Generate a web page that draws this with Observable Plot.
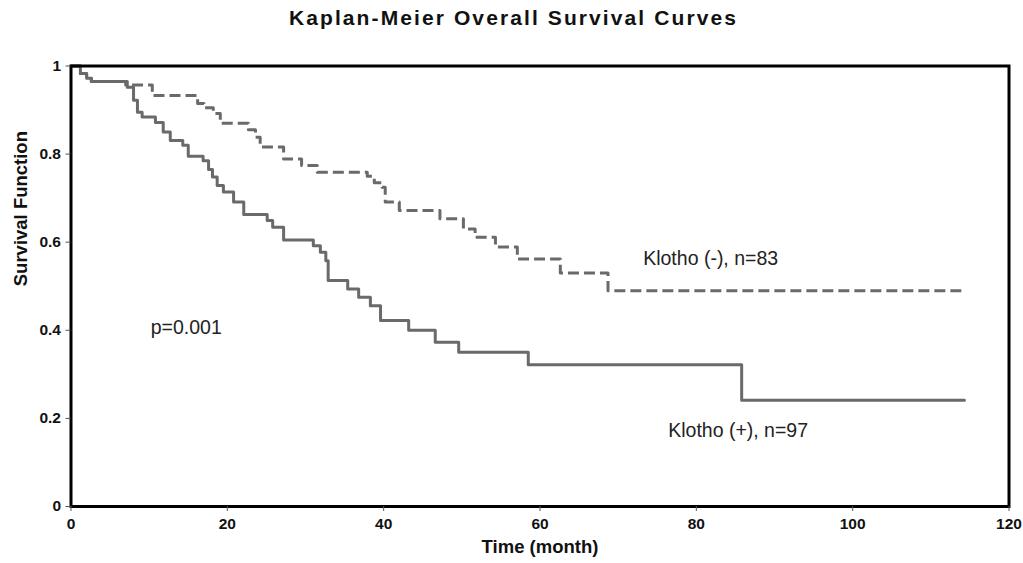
<!DOCTYPE html>
<html>
<head>
<meta charset="utf-8">
<script src="https://cdn.jsdelivr.net/npm/d3@7"></script>
<script src="https://cdn.jsdelivr.net/npm/@observablehq/plot@0.6"></script>
<style>
  html, body { margin: 0; padding: 0; background: #fff; }
  body { width: 1023px; height: 563px; overflow: hidden; font-family: "Liberation Sans", Arial, sans-serif; }
  #title { height: 40px; line-height: 36px; text-align: center; font-weight: bold; font-size: 21px; letter-spacing: 2.1px; color: #111; padding-left: 4px; }
</style>
</head>
<body>
<div id="title">Kaplan-Meier Overall Survival Curves</div>
<div id="chart"></div>
<script>
// Klotho (+), n=97 — solid line
const posTime = [0, 1.2, 2, 2.6, 7.2, 8.0, 8.5, 9.1, 10.8, 11.8, 12.7, 14.3, 15.0, 16.9, 17.6, 18.1, 18.7, 19.5, 20.8, 22.1, 25.1, 25.8, 27.2, 31.0, 31.9, 32.6, 32.9, 35.4, 36.8, 38.3, 39.6, 43.2, 46.6, 49.6, 58.5, 85.8, 114.3];
const posSurv = [1, 0.983, 0.972, 0.965, 0.952, 0.922, 0.895, 0.884, 0.872, 0.85, 0.831, 0.82, 0.795, 0.785, 0.765, 0.748, 0.729, 0.714, 0.691, 0.663, 0.649, 0.634, 0.605, 0.592, 0.577, 0.558, 0.513, 0.494, 0.475, 0.456, 0.422, 0.40, 0.373, 0.35, 0.322, 0.241, 0.241];

// Klotho (-), n=83 — dashed line
const negTime = [0, 1.2, 2, 2.6, 7.0, 10.4, 16.2, 17.0, 18.2, 19.1, 22.7, 23.6, 24.2, 27.2, 29.5, 31.5, 37.9, 38.8, 39.8, 40.2, 42.0, 47.2, 50.2, 51.7, 54.3, 57.1, 62.6, 68.7, 113.9];
const negSurv = [1, 0.983, 0.972, 0.965, 0.957, 0.933, 0.915, 0.905, 0.892, 0.870, 0.855, 0.838, 0.816, 0.789, 0.774, 0.759, 0.750, 0.735, 0.725, 0.691, 0.672, 0.653, 0.630, 0.611, 0.589, 0.562, 0.530, 0.490, 0.490];

const xTicks = [0, 20, 40, 60, 80, 100, 120];
const yTicks = [0, 0.2, 0.4, 0.6, 0.8, 1];
const yTickLabels = ["0", "0.2", "0.4", "0.6", "0.8", "1"];

const noteText = ["Klotho (-), n=83", "Klotho (+), n=97", "p=0.001"];
const noteTime = [73.2, 76.4, 10.2];
const noteSurv = [0.563, 0.173, 0.406];

const pos = posTime.map((t, i) => ({t, s: posSurv[i]}));
const neg = negTime.map((t, i) => ({t, s: negSurv[i]}));
const notes = noteText.map((text, i) => ({text, t: noteTime[i], s: noteSurv[i]}));

const lineColor = "#6a6a6a";

const chart = Plot.plot({
  width: 1023,
  height: 523,
  marginTop: 25.5,
  marginBottom: 57,
  marginLeft: 70.5,
  marginRight: 14.5,
  style: { fontFamily: "'Liberation Sans', Arial, sans-serif", background: "#fff", color: "#111" },
  x: { domain: [0, 120] },
  y: { domain: [0, 1] },
  marks: [
    Plot.line(neg, { x: "t", y: "s", curve: "step-after", stroke: lineColor, strokeWidth: 3, strokeDasharray: "11,5", strokeLinecap: "butt" }),
    Plot.line(pos, { x: "t", y: "s", curve: "step-after", stroke: lineColor, strokeWidth: 3 }),
    Plot.frame({ stroke: "#000", strokeWidth: 3 }),
    Plot.axisX({ ticks: xTicks, tickSize: 5, tickPadding: 6, label: null, fontSize: 15.5, fontWeight: "bold", stroke: "#555" }),
    Plot.axisY({ ticks: yTicks, tickFormat: (d) => yTickLabels[yTicks.indexOf(d)], tickSize: 5, tickPadding: 5, label: null, fontSize: 15.5, fontWeight: "bold", stroke: "#555" }),
    Plot.text(["Survival Function"], { frameAnchor: "left", dx: -50, rotate: -90, text: d => d, fontSize: 18.5, fontWeight: "bold", fill: "#111" }),
    Plot.text(["Time (month)"], { frameAnchor: "bottom", dy: 46, text: d => d, fontSize: 18.5, fontWeight: "bold", fill: "#111" }),
    Plot.text(notes, { x: "t", y: "s", text: "text", textAnchor: "start", fontSize: 19.5, fill: "#222" })
  ]
});
document.getElementById("chart").appendChild(chart);
</script>
</body>
</html>
